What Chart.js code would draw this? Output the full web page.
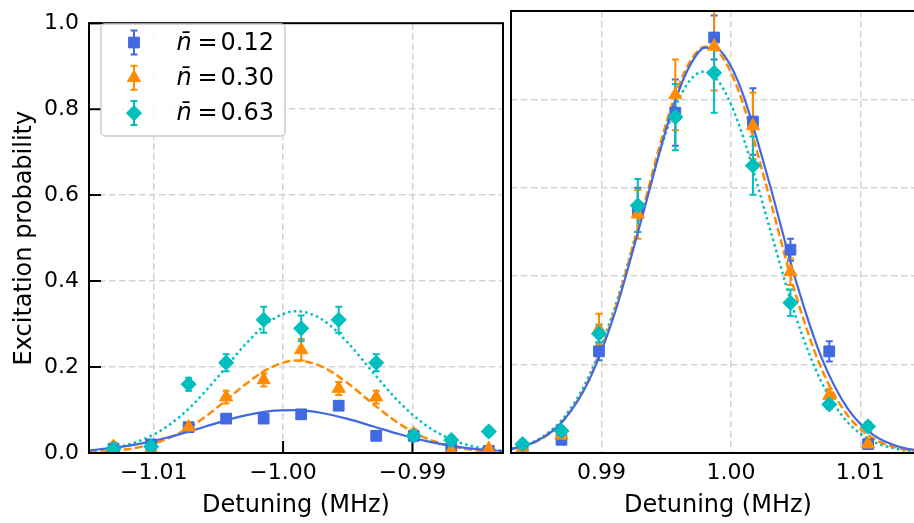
<!DOCTYPE html>
<html>
<head>
<meta charset="utf-8">
<script src="https://cdn.jsdelivr.net/npm/chart.js@4.4.1/dist/chart.umd.min.js"></script>
<style>
  html, body { margin: 0; padding: 0; background: #fff; overflow: hidden; }
  #wrap { position: relative; width: 914px; height: 523px; overflow: hidden; }
  canvas { position: absolute; top: 0; display: block; }
</style>
</head>
<body>
<div id="wrap">
  <canvas id="leftChart" width="530" height="523" style="left:0"></canvas>
  <canvas id="rightChart" width="460" height="523" style="left:480px"></canvas>
</div>
<script>
// Series labels (mean phonon number)
const seriesLabels = ['0.12', '0.30', '0.63'];

// Tick labels
const leftTicks = [-1.01, -1.00, -0.99];
const rightTicks = [0.99, 1.00, 1.01];
const yTicks = [0.0, 0.2, 0.4, 0.6, 0.8, 1.0];

// Left sideband (around -1 MHz): measured points
const leftX = [-1.0131, -1.0102, -1.0073, -1.0044, -1.0015, -0.9986, -0.9957, -0.9928, -0.9899, -0.9870, -0.9841];
const leftBlue = [0.01, 0.02, 0.06, 0.08, 0.08, 0.09, 0.11, 0.04, 0.04, 0.01, 0.005];
const leftBlueErr = [0.005, 0.005, 0.01, 0.01, 0.01, 0.01, 0.01, 0.01, 0.01, 0.005, 0.005];
const leftOrange = [0.015, 0.01, 0.06, 0.13, 0.17, 0.24, 0.15, 0.13, 0.045, 0.005, 0.01];
const leftOrangeErr = [0.01, 0.005, 0.01, 0.015, 0.015, 0.025, 0.015, 0.015, 0.01, 0.005, 0.005];
const leftCyan = [0.01, 0.015, 0.16, 0.21, 0.31, 0.29, 0.31, 0.21, 0.04, 0.03, 0.05];
const leftCyanErr = [0.005, 0.005, 0.015, 0.02, 0.03, 0.03, 0.03, 0.02, 0.01, 0.01, 0.01];

// Left sideband: fitted curves
const leftFitX = [-1.015, -1.013, -1.011, -1.009, -1.007, -1.005, -1.003, -1.001, -0.999, -0.997, -0.995, -0.993, -0.991, -0.989, -0.987, -0.985, -0.983];
const leftFitBlue = [0.0063, 0.0123, 0.0219, 0.0355, 0.0524, 0.0707, 0.0869, 0.0975, 0.0997, 0.0931, 0.0793, 0.0616, 0.0436, 0.0282, 0.0166, 0.0090, 0.0044];
const leftFitOrange = [0.0018, 0.0054, 0.0143, 0.0326, 0.0639, 0.1080, 0.1576, 0.1982, 0.2150, 0.2011, 0.1623, 0.1130, 0.0678, 0.0351, 0.0157, 0.0060, 0.0020];
const leftFitCyan = [0.0045, 0.0123, 0.0293, 0.0611, 0.1116, 0.1784, 0.2499, 0.3068, 0.3300, 0.3109, 0.2566, 0.1856, 0.1176, 0.0653, 0.0318, 0.0135, 0.0050];

// Right sideband (around +1 MHz): measured points
const rightX = [0.9839, 0.9869, 0.9898, 0.9928, 0.9957, 0.9987, 1.0017, 1.0046, 1.0076, 1.0106];
const rightBlue = [0.01, 0.03, 0.23, 0.55, 0.77, 0.94, 0.75, 0.46, 0.23, 0.02];
const rightBlueErr = [0.005, 0.01, 0.02, 0.05, 0.075, 0.05, 0.075, 0.025, 0.023, 0.01];
const rightOrange = [0.01, 0.04, 0.28, 0.54, 0.81, 0.92, 0.74, 0.41, 0.13, 0.02];
const rightOrangeErr = [0.005, 0.01, 0.035, 0.055, 0.08, 0.1, 0.075, 0.03, 0.015, 0.005];
const rightCyan = [0.02, 0.05, 0.27, 0.56, 0.76, 0.86, 0.65, 0.34, 0.11, 0.06];
const rightCyanErr = [0.01, 0.01, 0.02, 0.06, 0.075, 0.09, 0.066, 0.03, 0.01, 0.01];

// Right sideband: fitted curves
const rightFitX = [0.983, 0.985, 0.987, 0.989, 0.991, 0.993, 0.995, 0.996, 0.997, 0.998, 0.999, 1.000, 1.001, 1.003, 1.005, 1.007, 1.009, 1.011, 1.013, 1.015];
const rightFitBlue = [0.0088, 0.0272, 0.0720, 0.1627, 0.3145, 0.5194, 0.7334, 0.8218, 0.8853, 0.9171, 0.9135, 0.8750, 0.8058, 0.6076, 0.3916, 0.2158, 0.1016, 0.0409, 0.0141, 0.0041];
const rightFitOrange = [0.0084, 0.0267, 0.0718, 0.1647, 0.3208, 0.5310, 0.7471, 0.8338, 0.8934, 0.9193, 0.9081, 0.8613, 0.7845, 0.5760, 0.3594, 0.1907, 0.0859, 0.0329, 0.0107, 0.0030];
const rightFitCyan = [0.0095, 0.0293, 0.0771, 0.1725, 0.3279, 0.5298, 0.7274, 0.8019, 0.8489, 0.8630, 0.8420, 0.7890, 0.7099, 0.5087, 0.3097, 0.1603, 0.0705, 0.0264, 0.0084, 0.0023];

const BLUE = '#4169e1';
const ORANGE = '#ff8c00';
const CYAN = '#00bfbf';
const GRID = '#d3d3d3';
const FONT = '"DejaVu Sans", sans-serif';

// marker shapes: square, triangle, diamond
const MARKERS = [
    { color: BLUE, style: 'rect', r: 7.6 },
    { color: ORANGE, style: 'triangle', r: 7.6 },
    { color: CYAN, style: 'rectRot', r: 7.6 }
];

Chart.defaults.font.family = FONT;
Chart.defaults.font.size = 22;
Chart.defaults.color = '#000';

function toPoints(xs, ys) {
    return xs.map((x, i) => ({ x: x, y: ys[i] }));
}

function fmtTick(v, digits) {
    const s = Math.abs(v).toFixed(digits);
    return (v < -1e-9 ? '\u2212' : '') + s;
}

function scatterSet(xs, ys, errs, m, order) {
    return {
        data: toPoints(xs, ys),
        errors: errs,
        showLine: false,
        clip: 0,
        borderColor: m.color,
        backgroundColor: m.color,
        pointBackgroundColor: m.color,
        pointBorderColor: m.color,
        pointBorderWidth: 1,
        pointStyle: m.style,
        pointRadius: m.r,
        order: order
    };
}

function fitSet(xs, ys, color, dash, width, order) {
    return {
        data: toPoints(xs, ys),
        borderColor: color,
        borderWidth: width,
        borderDash: dash,
        clip: 0,
        pointRadius: 0,
        fill: false,
        cubicInterpolationMode: 'monotone',
        order: order
    };
}

// Error bars, drawn under the lines and markers (blue, orange, cyan)
const errorBarPlugin = {
    id: 'errorBars',
    beforeDatasetsDraw(chart) {
        const ctx = chart.ctx, a = chart.chartArea;
        const xs = chart.scales.x, ys = chart.scales.y;
        ctx.save();
        ctx.beginPath();
        ctx.rect(a.left, a.top, a.right - a.left, a.bottom - a.top);
        ctx.clip();
        ctx.lineWidth = 2;
        chart.data.datasets.slice().reverse().forEach(ds => {
            if (!ds.errors) return;
            ctx.strokeStyle = ds.borderColor;
            ds.data.forEach((p, i) => {
                const e = ds.errors[i];
                const px = xs.getPixelForValue(p.x);
                const top = ys.getPixelForValue(p.y + e);
                const bot = ys.getPixelForValue(p.y - e);
                ctx.beginPath();
                ctx.moveTo(px, top); ctx.lineTo(px, bot);
                ctx.moveTo(px - 3.5, top); ctx.lineTo(px + 3.5, top);
                ctx.moveTo(px - 3.5, bot); ctx.lineTo(px + 3.5, bot);
                ctx.stroke();
            });
        });
        ctx.restore();
    }
};

// Black box round the axes
const framePlugin = {
    id: 'frame',
    afterDatasetsDraw(chart) {
        const ctx = chart.ctx, a = chart.chartArea;
        ctx.save();
        ctx.strokeStyle = '#000';
        ctx.lineWidth = 2;
        ctx.strokeRect(a.left, a.top, a.right - a.left, a.bottom - a.top);
        ctx.restore();
    }
};

// Inward-facing tick marks (left panel only)
const inTicksPlugin = {
    id: 'inTicks',
    beforeDatasetsDraw(chart) {
        const ctx = chart.ctx, a = chart.chartArea;
        ctx.save();
        ctx.strokeStyle = '#000';
        ctx.lineWidth = 2;
        ctx.beginPath();
        yTicks.forEach(v => {
            const py = chart.scales.y.getPixelForValue(v);
            ctx.moveTo(a.left, py); ctx.lineTo(a.left + 12, py);
        });
        leftTicks.forEach(v => {
            const px = chart.scales.x.getPixelForValue(v);
            ctx.moveTo(px, a.bottom); ctx.lineTo(px, a.bottom - 12);
        });
        ctx.stroke();
        ctx.restore();
    }
};

// Legend box in the upper left corner
const legendPlugin = {
    id: 'boxLegend',
    afterDraw(chart) {
        const ctx = chart.ctx;
        const bx = 101, by = 24, bw = 184, bh = 112;
        ctx.save();
        ctx.fillStyle = 'rgba(255,255,255,0.85)';
        ctx.strokeStyle = '#cccccc';
        ctx.lineWidth = 1.5;
        ctx.beginPath();
        ctx.roundRect(bx, by, bw, bh, 4);
        ctx.fill();
        ctx.stroke();

        MARKERS.forEach((s, i) => {
            const cy = 42.5 + i * 35.3, mx = 134;
            ctx.strokeStyle = s.color;
            ctx.fillStyle = s.color;
            ctx.lineWidth = 2;
            ctx.beginPath();
            ctx.moveTo(mx, cy - 12); ctx.lineTo(mx, cy + 12);
            ctx.moveTo(mx - 3.5, cy - 12); ctx.lineTo(mx + 3.5, cy - 12);
            ctx.moveTo(mx - 3.5, cy + 12); ctx.lineTo(mx + 3.5, cy + 12);
            ctx.stroke();
            ctx.lineWidth = 1;
            Chart.helpers.drawPoint(ctx, { pointStyle: s.style, radius: s.r, rotation: 0, borderWidth: 1 }, mx, cy);

            ctx.fillStyle = '#000';
            ctx.textBaseline = 'middle';
            ctx.textAlign = 'left';
            ctx.font = 'italic 24px ' + FONT;
            ctx.fillText('n\u0304', 176.5, cy + 1);
            ctx.font = '24px ' + FONT;
            ctx.fillText('=', 197.5, cy + 1);
            ctx.fillText(seriesLabels[i], 220.5, cy + 1);
        });
        ctx.restore();
    }
};

function makeChart(id, panel) {
    const isLeft = panel.side === 'left';
    const box = panel.box;
    return new Chart(document.getElementById(id), {
        type: 'line',
        data: {
            datasets: [
                scatterSet(panel.x, panel.cyan, panel.cyanErr, MARKERS[2], 0),
                scatterSet(panel.x, panel.orange, panel.orangeErr, MARKERS[1], 1),
                scatterSet(panel.x, panel.blue, panel.blueErr, MARKERS[0], 2),
                fitSet(panel.fitX, panel.fitBlue, BLUE, [], 2.2, 3),
                fitSet(panel.fitX, panel.fitOrange, ORANGE, [8, 3.5], 2.5, 4),
                fitSet(panel.fitX, panel.fitCyan, CYAN, [2.5, 3.2], 2.5, 5)
            ]
        },
        options: {
            responsive: false,
            animation: false,
            devicePixelRatio: 1,
            events: [],
            layout: { padding: { top: 11, left: 0, right: box.padRight, bottom: 0 } },
            plugins: { legend: { display: false }, tooltip: { enabled: false } },
            scales: {
                x: {
                    type: 'linear',
                    bounds: 'data',
                    min: panel.range[0],
                    max: panel.range[1],
                    afterBuildTicks: s => { s.ticks = panel.ticks.map(v => ({ value: v })); },
                    afterFit: s => { s.height = box.xh; },
                    ticks: { padding: 7, color: '#000', font: { size: 22 }, callback: v => fmtTick(v, 2) },
                    grid: { color: GRID, lineWidth: 1.5, drawTicks: false },
                    border: { display: false, dash: [6.5, 3.5] },
                    title: { display: true, text: 'Detuning (MHz)', color: '#000', font: { size: 24 }, padding: { top: 0, bottom: 3 } }
                },
                y: {
                    type: 'linear',
                    bounds: 'data',
                    min: 0,
                    max: 1,
                    afterBuildTicks: s => { s.ticks = yTicks.map(v => ({ value: v })); },
                    afterFit: s => { s.width = box.yw; },
                    ticks: { display: isLeft, padding: 10, color: '#000', font: { size: 22 }, callback: v => v.toFixed(1) },
                    grid: { color: GRID, lineWidth: 1.5, drawTicks: false },
                    border: { display: false, dash: [6.5, 3.5] },
                    title: { display: isLeft, text: 'Excitation probability', color: '#000', font: { size: 24 }, padding: { top: 10, bottom: 0 } }
                }
            }
        },
        plugins: isLeft
            ? [errorBarPlugin, inTicksPlugin, framePlugin, legendPlugin]
            : [errorBarPlugin, framePlugin]
    });
}

// Pull the plot area onto the wanted box (canvas pixels)
function snapArea(chart, box, want) {
    for (let k = 0; k < 3; k++) {
        const a = chart.chartArea;
        const pad = chart.options.layout.padding;
        box.yw += want.left - a.left;
        box.xh += a.bottom - want.bottom;
        pad.right += a.right - want.right;
        pad.top += want.top - a.top;
        chart.update();
    }
}

// Left canvas starts at page x 0, right canvas at page x 480
const leftBox = { yw: 89, xh: 70, padRight: 27 };
const leftChart = makeChart('leftChart', {
    side: 'left', range: [-1.015, -0.983], ticks: leftTicks, box: leftBox,
    x: leftX, blue: leftBlue, blueErr: leftBlueErr, orange: leftOrange, orangeErr: leftOrangeErr,
    cyan: leftCyan, cyanErr: leftCyanErr,
    fitX: leftFitX, fitBlue: leftFitBlue, fitOrange: leftFitOrange, fitCyan: leftFitCyan
});
snapArea(leftChart, leftBox, { left: 89, right: 503, top: 11, bottom: 453 });

const rightBox = { yw: 31, xh: 70, padRight: 15 };
const rightChart = makeChart('rightChart', {
    side: 'right', range: [0.983, 1.015], ticks: rightTicks, box: rightBox,
    x: rightX, blue: rightBlue, blueErr: rightBlueErr, orange: rightOrange, orangeErr: rightOrangeErr,
    cyan: rightCyan, cyanErr: rightCyanErr,
    fitX: rightFitX, fitBlue: rightFitBlue, fitOrange: rightFitOrange, fitCyan: rightFitCyan
});
snapArea(rightChart, rightBox, { left: 31, right: 445, top: 11, bottom: 453 });
</script>
</body>
</html>
